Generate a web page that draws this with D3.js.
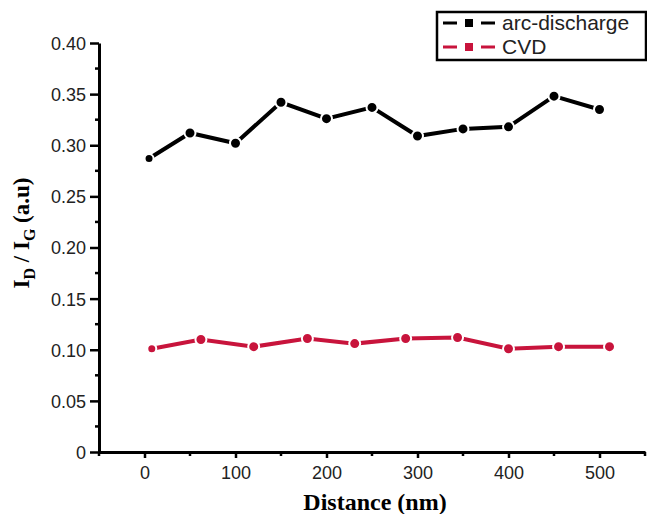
<!DOCTYPE html>
<html>
<head>
<meta charset="utf-8">
<script src="https://cdn.jsdelivr.net/npm/d3@7"></script>
<style>
  body { margin: 0; background: #fff; }
  svg { display: block; }
  .tick text { font-family: "Liberation Sans", Arial, sans-serif; font-size: 18px; fill: #222; }
</style>
</head>
<body>
<svg id="chart" width="647" height="514"></svg>
<script>
// values
var arcX = [5, 50, 100, 150, 200, 250, 300, 350, 400, 450, 500];
var arcY = [0.287, 0.312, 0.302, 0.342, 0.326, 0.337, 0.309, 0.316, 0.318, 0.348, 0.335];
var cvdX = [8, 62, 120, 179, 231, 287, 344, 400, 455, 511];
var cvdY = [0.101, 0.110, 0.103, 0.111, 0.106, 0.111, 0.112, 0.101, 0.103, 0.103];
var seriesNames = ["arc-discharge", "CVD"];
var xTicks = [0, 100, 200, 300, 400, 500];
var yTicks = [0, 0.05, 0.10, 0.15, 0.20, 0.25, 0.30, 0.35, 0.40];

var svg = d3.select("#chart");
var colors = ["#000000", "#c8143c"];

var x = d3.scaleLinear().domain([-50, 550]).range([99, 645]);
var y = d3.scaleLinear().domain([0, 0.4]).range([452, 43]);

// minor ticks
var xMinor = d3.range(-50, 551, 100);
var yMinor = d3.range(0.025, 0.4, 0.05);

svg.append("g").selectAll("line")
    .data(xMinor).enter().append("line")
    .attr("x1", function(d) { return x(d); })
    .attr("x2", function(d) { return x(d); })
    .attr("y1", 452).attr("y2", 456)
    .attr("stroke", "#000").attr("stroke-width", 2.5);

svg.append("g").selectAll("line")
    .data(yMinor).enter().append("line")
    .attr("x1", 95).attr("x2", 99)
    .attr("y1", function(d) { return y(d); })
    .attr("y2", function(d) { return y(d); })
    .attr("stroke", "#000").attr("stroke-width", 2.5);

var xAxis = svg.append("g")
    .attr("transform", "translate(0,452)")
    .call(d3.axisBottom(x).tickValues(xTicks).tickSize(6).tickSizeOuter(0).tickPadding(8));

var yAxis = svg.append("g")
    .attr("transform", "translate(99,0)")
    .call(d3.axisLeft(y).tickValues(yTicks).tickSize(9).tickSizeOuter(0).tickPadding(4)
      .tickFormat(function(d) { return d === 0 ? "0" : d3.format(".2f")(d); }));

[xAxis, yAxis].forEach(function(a) {
  a.select(".domain").attr("stroke", "#000").attr("stroke-width", 3);
  a.selectAll(".tick line").attr("stroke", "#000").attr("stroke-width", 2.5);
});
yAxis.selectAll(".tick text").attr("dy", "0.36em");

// series
var series = [
  arcX.map(function(v, i) { return [v, arcY[i]]; }),
  cvdX.map(function(v, i) { return [v, cvdY[i]]; })
];

var line = d3.line()
    .x(function(d) { return x(d[0]); })
    .y(function(d) { return y(d[1]); });

series.forEach(function(pts, s) {
  svg.append("path")
      .datum(pts)
      .attr("d", line)
      .attr("fill", "none")
      .attr("stroke", colors[s])
      .attr("stroke-width", 4);

  svg.append("g").selectAll("circle")
      .data(pts).enter().append("circle")
      .attr("cx", function(d) { return x(d[0]); })
      .attr("cy", function(d) { return y(d[1]); })
      .attr("r", function(d, i) { return i === 0 ? 4.5 : 5.5; })
      .attr("fill", colors[s])
      .attr("stroke", "#fff")
      .attr("stroke-width", 2);
});

// axis titles
svg.append("text")
    .attr("x", 375).attr("y", 510)
    .attr("text-anchor", "middle")
    .style("font-family", "'Liberation Serif', 'Times New Roman', serif")
    .style("font-weight", "bold")
    .style("font-size", "24px")
    .text("Distance (nm)");

var yt = svg.append("text")
    .attr("transform", "translate(29,233) rotate(-90)")
    .attr("text-anchor", "middle")
    .style("font-family", "'Liberation Serif', 'Times New Roman', serif")
    .style("font-weight", "bold")
    .style("font-size", "23px");
yt.append("tspan").text("I");
yt.append("tspan").attr("dy", 6).style("font-size", "16px").text("D");
yt.append("tspan").attr("dy", -6).text(" / I");
yt.append("tspan").attr("dy", 6).style("font-size", "16px").text("G");
yt.append("tspan").attr("dy", -6).text(" (a.u)");

// legend
var lg = svg.append("g");
lg.append("rect")
    .attr("x", 437).attr("y", 12)
    .attr("width", 209).attr("height", 48)
    .attr("fill", "#fff").attr("stroke", "#000").attr("stroke-width", 2.5);

seriesNames.forEach(function(name, i) {
  var cy = 23 + i * 24;
  lg.append("line")
      .attr("x1", 443).attr("x2", 495)
      .attr("y1", cy).attr("y2", cy)
      .attr("stroke", colors[i]).attr("stroke-width", 3)
      .attr("stroke-dasharray", "14,8,8,8,14");
  lg.append("rect")
      .attr("x", 465).attr("y", cy - 4)
      .attr("width", 8).attr("height", 8)
      .attr("fill", colors[i]);
  lg.append("text")
      .attr("x", 502).attr("y", cy)
      .attr("dy", "0.35em")
      .style("font-family", "'Liberation Sans', Arial, sans-serif")
      .style("font-size", "21px")
      .style("fill", "#222")
      .text(name);
});
</script>
</body>
</html>
